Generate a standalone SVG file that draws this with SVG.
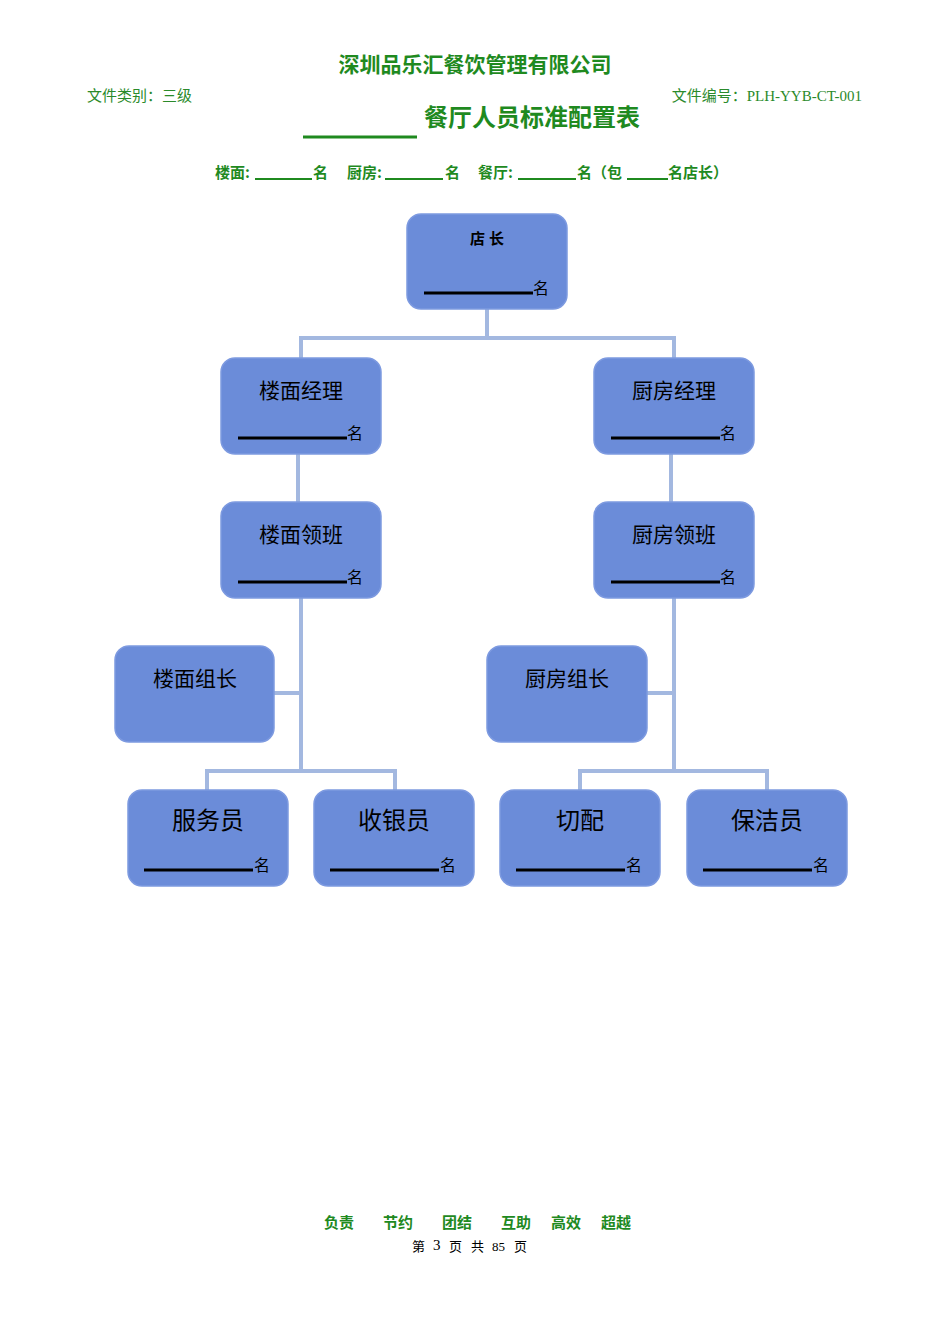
<svg xmlns="http://www.w3.org/2000/svg" width="950" height="1344" viewBox="0 0 950 1344">
<style>
.n{fill:#6b8cd9;stroke:#7d9ae0;stroke-width:1.5}
.t{font-family:"Liberation Sans","Noto Sans CJK SC",sans-serif;fill:#000;text-anchor:middle}
.g{font-family:"Liberation Serif","Noto Sans CJK SC",serif;fill:#2a8a2a}
.gb{font-family:"Noto Sans CJK SC",sans-serif;fill:#1f8a1f;font-weight:bold}
.u{stroke:#000;stroke-width:3}
.c{stroke:#a3b8e0;stroke-width:4;fill:none}
.s{font-family:"Noto Sans CJK SC",sans-serif;font-size:16px;fill:#000}
.p{font-family:"Liberation Serif","Noto Sans CJK SC",serif;font-size:13px;fill:#000}
</style>
<rect width="950" height="1344" fill="#fff"/>
<text class="gb" x="475" y="72" font-size="21" text-anchor="middle">深圳品乐汇餐饮管理有限公司</text>
<text class="g" x="87" y="101" font-size="15">文件类别：三级</text>
<text class="g" x="862" y="101" font-size="15" text-anchor="end">文件编号：PLH-YYB-CT-001</text>
<line x1="303" y1="137" x2="417" y2="137" stroke="#1f8a1f" stroke-width="3"/>
<text class="gb" x="532" y="126" font-size="24" text-anchor="middle">餐厅人员标准配置表</text>
<g class="gb" font-size="15">
<text x="215" y="178">楼面:</text><text x="313" y="178">名</text>
<text x="347" y="178">厨房:</text><text x="445" y="178">名</text>
<text x="478" y="178">餐厅:</text><text x="577" y="178">名（包</text>
<text x="668" y="178">名店长）</text>
</g>
<g stroke="#1f8a1f" stroke-width="2">
<line x1="255" y1="179" x2="312" y2="179"/><line x1="385" y1="179" x2="443" y2="179"/><line x1="518" y1="179" x2="576" y2="179"/><line x1="627" y1="179" x2="668" y2="179"/>
</g>
<g id="connectors">
<path class="c" d="M487 309V338M301 358V338H674V358"/>
<path class="c" d="M298 454V502M671 454V502"/>
<path class="c" d="M301 598V771M274 693H301M207 790V771H395V790"/>
<path class="c" d="M674 598V771M647 693H674M580 790V771H767V790"/>
</g>
<g id="n-dianzhang"><rect class="n" x="407" y="214" width="160" height="95" rx="14"/><text class="t" x="487" y="244" font-size="15" font-weight="bold">店 长</text><line class="u" x1="424" y1="293" x2="533" y2="293"/><text class="s" x="533" y="294">名</text></g>
<g id="n-lmjl"><rect class="n" x="221" y="358" width="160" height="96" rx="14"/><text class="t" x="301" y="398" font-size="21">楼面经理</text><line class="u" x1="238" y1="438" x2="347" y2="438"/><text class="s" x="347" y="439">名</text></g>
<g id="n-cfjl"><rect class="n" x="594" y="358" width="160" height="96" rx="14"/><text class="t" x="674" y="398" font-size="21">厨房经理</text><line class="u" x1="611" y1="438" x2="720" y2="438"/><text class="s" x="720" y="439">名</text></g>
<g id="n-lmlb"><rect class="n" x="221" y="502" width="160" height="96" rx="14"/><text class="t" x="301" y="542" font-size="21">楼面领班</text><line class="u" x1="238" y1="582" x2="347" y2="582"/><text class="s" x="347" y="583">名</text></g>
<g id="n-cflb"><rect class="n" x="594" y="502" width="160" height="96" rx="14"/><text class="t" x="674" y="542" font-size="21">厨房领班</text><line class="u" x1="611" y1="582" x2="720" y2="582"/><text class="s" x="720" y="583">名</text></g>
<g id="n-lmzz"><rect class="n" x="115" y="646" width="159" height="96" rx="14"/><text class="t" x="195" y="686" font-size="21">楼面组长</text></g>
<g id="n-cfzz"><rect class="n" x="487" y="646" width="160" height="96" rx="14"/><text class="t" x="567" y="686" font-size="21">厨房组长</text></g>
<g id="n-fwy"><rect class="n" x="128" y="790" width="160" height="96" rx="14"/><text class="t" x="208" y="829" font-size="24">服务员</text><line class="u" x1="144" y1="870" x2="253" y2="870"/><text class="s" x="254" y="871">名</text></g>
<g id="n-syy"><rect class="n" x="314" y="790" width="160" height="96" rx="14"/><text class="t" x="394" y="829" font-size="24">收银员</text><line class="u" x1="330" y1="870" x2="439" y2="870"/><text class="s" x="440" y="871">名</text></g>
<g id="n-qp"><rect class="n" x="500" y="790" width="160" height="96" rx="14"/><text class="t" x="580" y="829" font-size="24">切配</text><line class="u" x1="516" y1="870" x2="625" y2="870"/><text class="s" x="626" y="871">名</text></g>
<g id="n-bjy"><rect class="n" x="687" y="790" width="160" height="96" rx="14"/><text class="t" x="767" y="829" font-size="24">保洁员</text><line class="u" x1="703" y1="870" x2="812" y2="870"/><text class="s" x="813" y="871">名</text></g>
<g class="gb" font-size="15">
<text x="324" y="1228">负责</text><text x="383" y="1228">节约</text><text x="442" y="1228">团结</text><text x="501" y="1228">互助</text><text x="551" y="1228">高效</text><text x="601" y="1228">超越</text>
</g>
<g class="p">
<text x="412" y="1251">第</text><text x="433" y="1250" font-size="15">3</text><text x="449" y="1251">页</text><text x="471" y="1251">共</text><text x="492" y="1251">85</text><text x="514" y="1251">页</text>
</g>
</svg>
